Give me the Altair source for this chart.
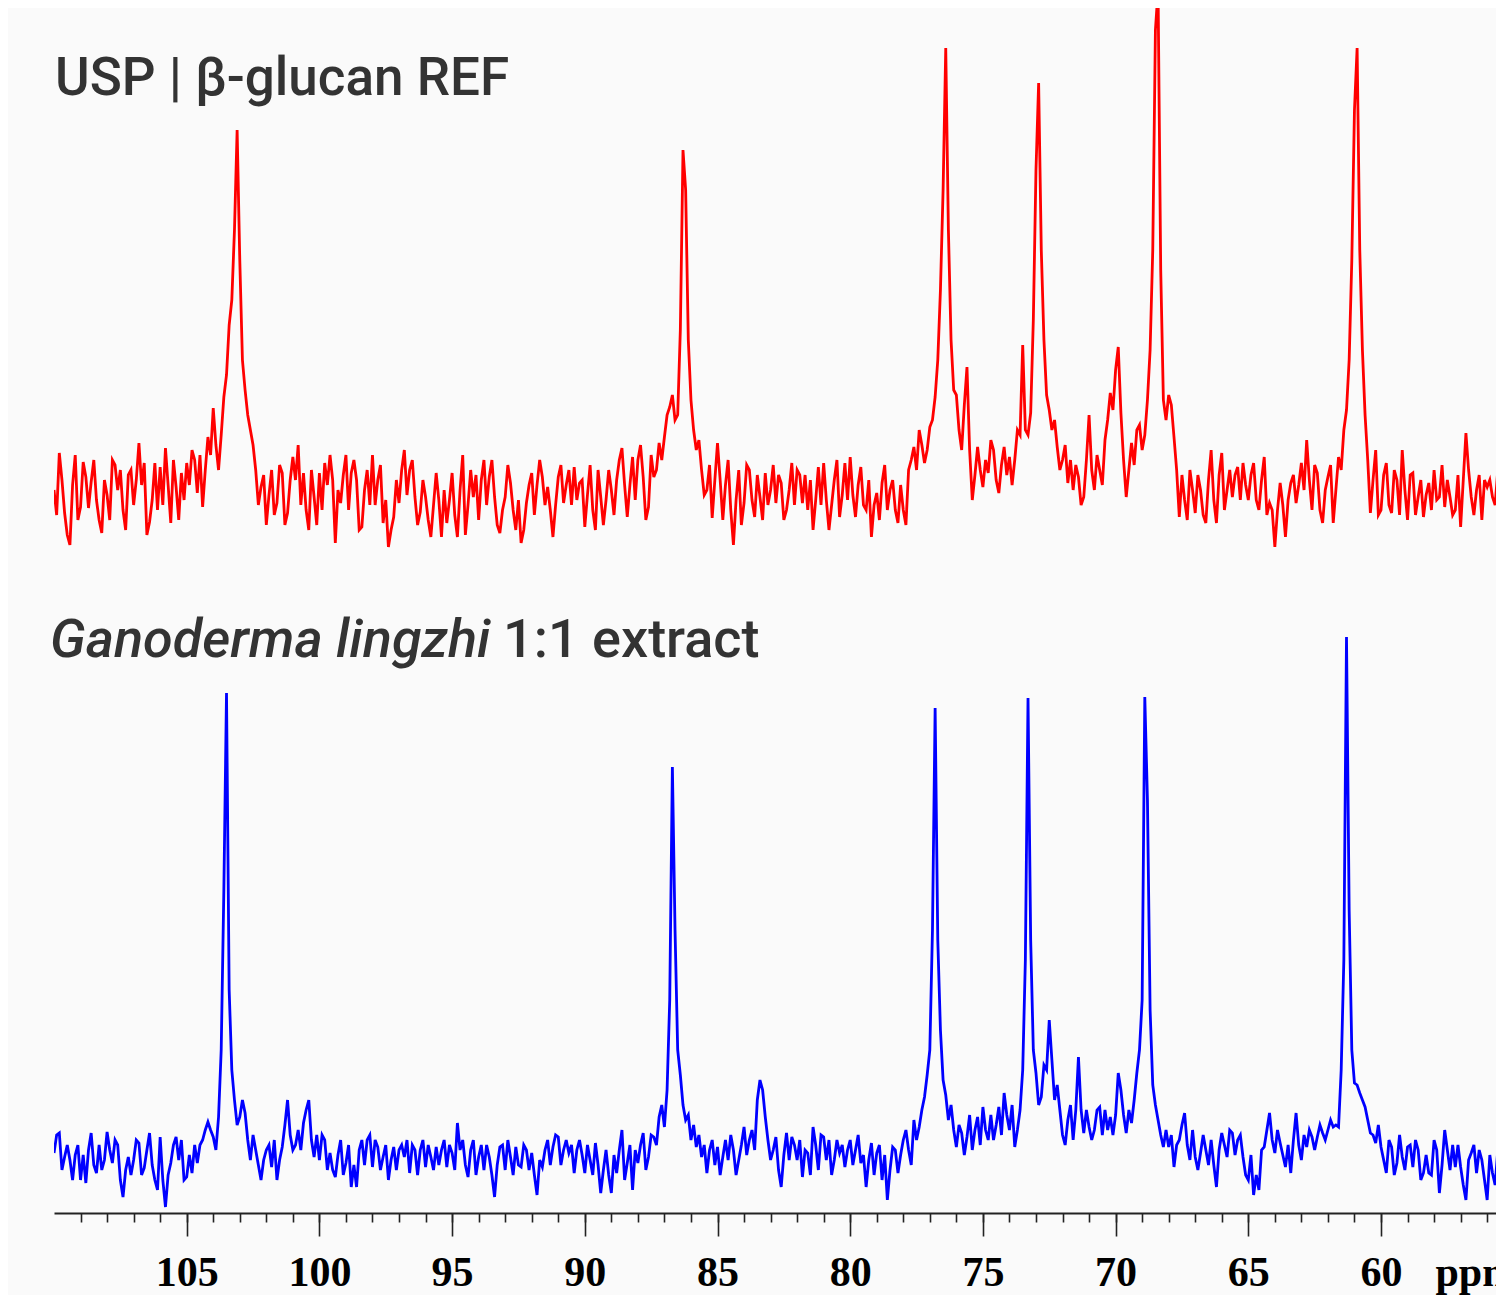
import altair as alt
import pandas as pd

# ---- data (intensity in arbitrary units, baseline = 0) ----
# Points every 0.1 ppm from 110.0 ppm downwards: the "a" arrays hold 110.0, 109.8, ...
# and the "b" arrays the points in between (109.9, 109.7, ...).
PPM_START = 110.0
PPM_STEP = 0.1

red_values_a = [
    0, 37, -23, -55, 35, -17, 13, 8, -10, -43,
    -5, 30, 0, -20, 15, -15, 47, 27, -32, 27,
    23, 42, -33, 3, 17, 27, 40, -3, -17, 53,
    82, 20, 93, 165, 260, 230, 100, 60, 20, 3,
    -35, 20, -13, 17, -23, 33, 45, 17, -40, -7,
    17, 27, 35, -53, -13, 35, 17, 10, -37, 20,
    35, 10, -33, -57, -27, -13, 40, 20, -7, -22,
    -7, -47, 17, -47, -33, 17, -47, 35, -15, -7,
    -30, 30, 13, -7, -43, -7, 7, -40, -53, -13,
    17, 5, 13, 3, -47, 13, -13, 20, 23, 7,
    -37, 25, -40, -7, -10, 0, 10, 42, -27, 33,
    30, 13, -17, 13, 47, 53, 83, 70, 160, 300,
    90, 40, 20, 0, -28, 47, -30, 30, -55, 20,
    -13, 20, -27, -7, 17, 0, -13, 7, -20, 27,
    20, -13, -20, -40, 23, 27, -40, 10, -27, 27,
    33, -27, 23, -20, -47, -3, 7, -20, 10, -33,
    -20, 20, 43, 60, 27, 63, 93, 200, 442, 150,
    95, 40, 123, -10, 43, 3, 17, 40, -3, 43,
    33, 30, 55, 60, 77, 320, 240, 95, 60, 43,
    30, 7, 0, 13, -7, 75, 0, 20, 50, 97,
    120, 77, -7, 47, 60, 40, 90, 240, 500, 90,
    95, 53, -27, -10, 20, -23, 0, -33, 40, -33,
    37, 0, -7, 23, 27, -10, 27, -20, 33, -13,
    -57, 7, -47, 7, -13, 27, 50, -20, 17, -33,
    13, -33, 33, 60, 130, 380, 240, 75, -23, 40,
    -20, 27, -23, 10, 40, -30, 17, -7, -27, 7,
    20, -7, -17, -7, -20, -37, 57, -7, 0, -30,
    3, -7, 20,
]
red_values_b = [
    -25, 10, -45, 5, -30, 28, -18, 30, -30, 10,
    -30, 25, 20, -40, 20, 10, 5, -45, -10, -20,
    -15, 5, 30, -30, -10, 5, 30, 35, 20, 35,
    45, 55, 115, 190, 360, 130, 75, 45, -15, 15,
    -5, -25, 25, -35, 10, 10, -15, -20, 20, -35,
    -20, 5, 10, 0, 15, -20, 30, -40, 0, -15,
    -15, 25, -10, -40, 10, 20, -5, 30, -35, 10,
    -30, -15, -10, 0, -10, -25, 0, -45, 20, 15,
    10, -15, 30, -35, -20, 25, -20, -10, -40, 5,
    -25, 30, -15, -20, -15, 25, 5, -15, -10, 10,
    -5, -20, 20, -35, 20, -25, 30, 5, 5, -10,
    45, -30, 35, 20, 30, 75, 95, 75, 340, 150,
    60, 50, -5, 25, 10, 10, 5, -20, -10, -35,
    25, -10, 15, -30, -15, 25, 15, -30, 0, -15,
    15, 15, 10, -10, -15, -10, -15, 30, -5, -10,
    -5, 5, -15, 10, -15, -30, 25, 0, -20, 5,
    -35, 30, 20, 45, 40, 70, 130, 300, 260, 100,
    60, 85, 40, 15, 20, 30, 50, 10, 25, 15,
    5, 60, 145, 55, 170, 407, 150, 80, 70, 20,
    45, 30, 25, -15, 30, 20, 35, 5, 70, 80,
    143, 30, 20, 25, 65, 55, 140, 460, 220, 70,
    85, 20, 15, -30, 0, 15, -25, 10, -10, 15,
    -20, 20, 15, -10, 5, 15, -10, 10, -25, -20,
    -20, -15, -10, 15, 5, 0, 10, 25, -20, 0,
    25, 0, 20, 80, 230, 442, 140, 30, 10, -25,
    15, -15, 20, -25, 0, 15, -25, 10, -5, -20,
    -10, 25, 10, -25, 15, 10, 20, -25, 15, 10,
    10, -15,
]

blue_values_a = [
    7, 27, 3, 0, 5, -20, -23, 27, -13, -10,
    28, -3, 15, -37, 3, 0, 17, -8, 27, -20,
    23, -47, -3, 23, 20, -17, -13, -3, 20, 38,
    23, 43, 270, 170, 60, 43, 47, 0, 10, -20,
    10, -7, -20, 13, 60, 10, 30, 37, 60, 3,
    0, 20, 7, -17, 20, -3, -27, -27, 20, 20,
    -7, 13, 3, -20, 13, 10, 3, -13, 10, 10,
    -7, 3, 13, 10, -7, 7, 37, 20, -17, 20,
    3, -10, 3, -37, 13, -10, 3, 13, -7, 10,
    7, -35, -7, 20, 13, 23, 10, 7, -13, 20,
    -13, 0, 17, -33, 10, -33, -13, 30, -3, -30,
    -3, 27, 3, 23, 43, 33, 160, 230, 85, 40,
    20, 13, 3, -13, 20, 13, 3, 0, 10, 0,
    33, 20, 10, 80, 43, 0, 23, -27, 27, 23,
    0, -17, 7, 33, -10, 23, 20, 0, 7, -7,
    20, 10, -3, -27, 17, 7, -20, -40, 13, -13,
    20, 10, 40, 33, 63, 110, 452, 130, 65, 55,
    13, 27, 23, 10, 43, 53, 20, 20, 53, 67,
    30, 13, 50, 200, 220, 87, 63, 90, 100, 75,
    25, 40, 20, 103, 27, 33, 30, 53, 50, 43,
    45, 70, 27, 37, 87, 160, 360, 75, 40, 13,
    13, -7, 20, 47, 0, 3, 7, 10, 20, -27,
    27, 3, 27, 20, 3, -20, -35, -30, 13, 47,
    7, 17, -7, -13, 47, 0, 13, 23, 23, 27,
    30, 33, 33, 200, 250, 77, 67, 53, 27, 17,
    13, -13, 13, -3, 3, 13, -7, 10, -13, -13,
    20, -33, 30, -10, -7, -7, -40, 7, -13, 0,
    -40, -13, 10,
]
blue_values_b = [
    25, -10, 15, -20, 15, 5, 10, -5, 15, 0,
    10, 20, -20, -10, -15, 20, -15, 10, -5, -30,
    -20, -15, 15, 0, -20, 5, 15, 15, 30, 30,
    10, 110, 467, 90, 35, 60, 20, 25, -5, 0,
    15, 20, 0, 35, 25, 15, 10, 50, 20, 25,
    25, -10, -10, 5, -15, 15, -5, 10, -5, 25,
    20, -10, 15, 0, -10, 15, 20, 15, -15, 20,
    15, -10, -5, 20, 15, -10, 10, -5, 10, -15,
    15, 15, -15, -5, 15, 20, -15, -5, 15, -10,
    -15, 0, 10, -5, 25, -5, 20, 15, 10, 5,
    15, -15, -5, -10, -15, 5, 10, -20, 15, 10,
    15, -10, 25, 15, 55, 70, 393, 110, 55, 45,
    35, 25, 15, 10, -5, -15, 20, 25, -15, 15,
    5, 30, 60, 70, 20, 10, -10, 5, 0, 15,
    20, 10, -15, 15, 25, 0, -15, 20, 15, 10,
    -5, 25, 5, 0, -15, 15, 5, -10, 10, 5,
    30, -5, 20, 50, 85, 230, 220, 80, 40, 30,
    35, 5, 45, 30, 15, 30, 45, 35, 25, 45,
    55, 30, 90, 462, 110, 55, 95, 140, 60, 50,
    15, 55, 50, 50, 50, 20, 50, 25, 30, 25,
    87, 45, 50, 60, 110, 463, 150, 55, 25, 30,
    25, 15, 35, 15, 30, -10, 25, -5, -5, 10,
    15, 30, 5, 25, -15, 5, -15, 10, 30, 20,
    30, 5, 15, 20, 15, 25, 30, 10, 35, 20,
    40, 35, 90, 523, 110, 75, 60, 40, 25, 35,
    0, 20, -15, 25, -10, 15, 20, -20, 5, -15,
    10, -5, 10, 15, 15, -25, 0, 15, 10, -20,
    5, -25,
]

major_ticks = [105, 100, 95, 90, 85, 80, 75, 70, 65, 60]
minor_ticks = list(range(56, 110))

titles = ["USP | β-glucan REF", "Ganoderma lingzhi", "1:1 extract"]


def trace(values_a, values_b):
    ppm, inten = [], []
    for k, v in enumerate(values_a):
        ppm.append(round(PPM_START - 2 * k * PPM_STEP, 2))
        inten.append(v)
    for k, v in enumerate(values_b):
        ppm.append(round(PPM_START - (2 * k + 1) * PPM_STEP, 2))
        inten.append(v)
    return pd.DataFrame({"ppm": ppm, "intensity": inten}).sort_values("ppm")


red_df = trace(red_values_a, red_values_b)
blue_df = trace(blue_values_a, blue_values_b)

x_scale = alt.Scale(domain=[55.667, 110], reverse=True, nice=False, zero=False)

major_axis = alt.Axis(
    values=major_ticks, format="d", orient="bottom", grid=False,
    labelFont="Liberation Serif", labelFontWeight="bold", labelFontSize=42,
    labelColor="#000000", labelBaseline="alphabetic", labelPadding=49,
    labelFlush=False, labelOverlap=False,
    tickSize=23, tickWidth=1.6, tickColor="#222222",
    domainColor="#222222", domainWidth=2,
    title="ppm", titleFont="Liberation Serif", titleFontWeight="bold",
    titleFontSize=42, titleColor="#000000", titleX=1381, titleY=72,
    titleAlign="left", titleBaseline="alphabetic", titleAngle=0,
)
minor_axis = alt.Axis(
    values=minor_ticks, orient="bottom", grid=False, labels=False,
    domain=False, tickSize=9, tickWidth=1.6, tickColor="#222222", title=None,
)

red = alt.Chart(red_df).mark_line(color="#ff0000", strokeWidth=2.8, clip=True).encode(
    x=alt.X("ppm:Q", scale=x_scale, axis=major_axis),
    y=alt.Y("intensity:Q", scale=alt.Scale(domain=[-723, 482], nice=False, zero=False), axis=None),
)
blue = alt.Chart(blue_df).mark_line(color="#0000ff", strokeWidth=2.8, clip=True).encode(
    x=alt.X("ppm:Q", scale=x_scale, axis=minor_axis),
    y=alt.Y("intensity:Q", scale=alt.Scale(domain=[-53, 1152], nice=False, zero=False), axis=None),
)

title_df = pd.DataFrame({"t": titles})
t1 = alt.Chart(title_df).transform_filter(alt.datum.t == titles[0]).mark_text(
    font="Roboto", fontSize=53, fontWeight=500, color="#333333", align="left", baseline="alphabetic"
).encode(text="t:N", x=alt.value(1), y=alt.value(87))
t2 = alt.Chart(title_df).transform_filter(alt.datum.t == titles[1]).mark_text(
    font="Roboto", fontSize=54, fontWeight=500, fontStyle="italic", color="#333333",
    align="left", baseline="alphabetic"
).encode(text="t:N", x=alt.value(-4), y=alt.value(649))
t3 = alt.Chart(title_df).transform_filter(alt.datum.t == titles[2]).mark_text(
    font="Roboto", fontSize=54, fontWeight=500, color="#333333", align="left", baseline="alphabetic"
).encode(text="t:N", x=alt.value(449), y=alt.value(649))

chart = (
    alt.layer(red, blue, t1, t2, t3)
    .resolve_scale(y="independent")
    .resolve_axis(x="independent")
    .properties(
        width=1442, height=1205,
        autosize=alt.AutoSizeParams(type="none"),
        padding={"left": 46, "right": 0, "top": 0, "bottom": 82},
    )
    .configure(background="#fafafa")
    .configure_view(stroke=None)
)

chart.save("out.html", embed_options={"renderer": "svg", "actions": False})
